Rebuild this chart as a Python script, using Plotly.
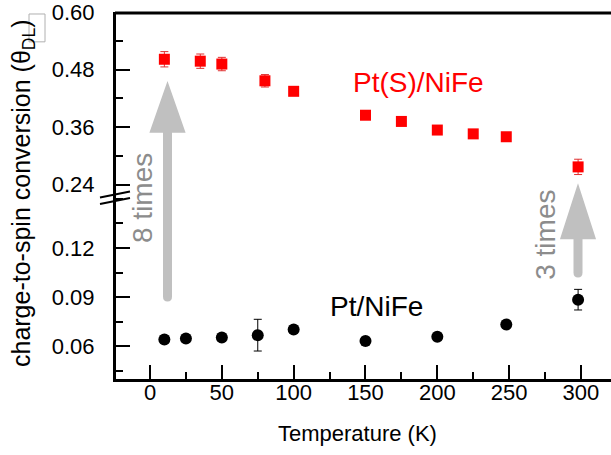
import plotly.graph_objects as go

# ---- data ----
temp_pts = [10, 35, 50, 80, 100, 150, 175, 200, 225, 248, 298]
theta_pts = [0.502, 0.498, 0.492, 0.457, 0.435, 0.385, 0.372, 0.354, 0.346, 0.340, 0.277]
err_pts = [0.016, 0.015, 0.014, 0.013, 0.008, 0.006, 0.006, 0.006, 0.006, 0.006, 0.016]

temp_pt = [10, 25, 50, 75, 100, 150, 200, 248, 298]
theta_pt = [0.0641, 0.0647, 0.0653, 0.0667, 0.0702, 0.0632, 0.0657, 0.0732, 0.0884]
err_pt = [0.002, 0.002, 0.002, 0.0097, 0.002, 0.002, 0.002, 0.002, 0.0063]

x_ticks = [0, 50, 100, 150, 200, 250, 300]
y_low_ticks = [0.06, 0.09, 0.12]
y_high_ticks = [0.24, 0.36, 0.48, 0.60]

W, H = 611, 455
L, R, T, B = 116, 0, 10, 76
PW, PH = W - L - R, H - T - B


def X(px):
    return (px - L) / PW


def Y(py):
    return (H - B - py) / PH


split = Y(193)

fig = go.Figure()
fig.add_trace(go.Scatter(
    x=temp_pts, y=theta_pts, mode="markers", yaxis="y2",
    marker=dict(symbol="square", size=11, color="#ff0000"),
    error_y=dict(type="data", array=err_pts, color="#e03030", thickness=1, width=4),
    showlegend=False))
fig.add_trace(go.Scatter(
    x=temp_pt, y=theta_pt, mode="markers", yaxis="y",
    marker=dict(symbol="circle", size=12, color="black"),
    error_y=dict(type="data", array=err_pt, color="black", thickness=1, width=4),
    showlegend=False))

tickfont = dict(family="Liberation Sans, Arial, sans-serif", size=22, color="black")
axis_common = dict(showline=True, linecolor="black", linewidth=3, ticks="inside",
                   tickcolor="black", tickwidth=2, ticklen=14, showgrid=False,
                   zeroline=False, tickfont=tickfont, ticklabeloverflow="allow")

fig.update_layout(
    width=W, height=H,
    margin=dict(l=L, r=R, t=T, b=B),
    paper_bgcolor="white", plot_bgcolor="white",
    xaxis=dict(range=[-23.67, 320.9], tickvals=x_ticks,
               minor=dict(dtick=25, tick0=0, ticks="inside", ticklen=7, tickwidth=2, tickcolor="black"),
               anchor="y", ticklabelstandoff=-8, **axis_common),
    yaxis=dict(range=[0.0399, 0.153], domain=[0, split], tickvals=y_low_ticks,
               ticktext=["%.2f" % v for v in y_low_ticks],
               minor=dict(dtick=0.015, tick0=0.045, ticks="inside", ticklen=7, tickwidth=2, tickcolor="black"),
               anchor="x", ticklabelstandoff=14, **axis_common),
    yaxis2=dict(range=[0.2203, 0.6008], domain=[split, 1], tickvals=y_high_ticks,
                ticktext=["%.2f" % v for v in y_high_ticks],
                minor=dict(dtick=0.06, tick0=0.24, ticks="inside", ticklen=7, tickwidth=2, tickcolor="black"),
                anchor="x", ticklabelstandoff=14, **axis_common),
)

shapes = []
# top frame line
shapes.append(dict(type="line", xref="paper", yref="paper", x0=X(115), x1=X(611), y0=Y(11), y1=Y(11),
                   line=dict(color="black", width=3)))
# axis break marks
for dy in (0, 6.5):
    shapes.append(dict(type="line", xref="paper", yref="paper",
                       x0=X(100), y0=Y(196.5 + dy), x1=X(130), y1=Y(190.5 + dy),
                       line=dict(color="black", width=2)))
# box around the DL subscript in the y title
shapes.append(dict(type="rect", xref="paper", yref="paper", x0=X(29), x1=X(45), y0=Y(40), y1=Y(12),
                   line=dict(color="#b0b0b0", width=1)))


def arrow(cx, tip, base, bottom, half=16, shaft=4.5, col="#c0c0c0"):
    head = "M {} {} L {} {} L {} {} Z".format(
        X(cx), Y(tip), X(cx - half), Y(base), X(cx + half), Y(base))
    body = ("M {a} {t} L {a} {b} Q {a} {e} {c} {e} Q {d} {e} {d} {b} L {d} {t} Z").format(
        a=X(cx - shaft), d=X(cx + shaft), c=X(cx), t=Y(base - 2), b=Y(bottom - 4), e=Y(bottom + 1))
    return [dict(type="path", xref="paper", yref="paper", path=head, fillcolor=col,
                 line=dict(color=col, width=3)),
            dict(type="path", xref="paper", yref="paper", path=body, fillcolor=col,
                 line=dict(color=col, width=0))]


shapes += arrow(167.5, 84, 130, 300)
shapes += arrow(578, 187, 237, 276)
fig.update_layout(shapes=shapes)

font_ann = "Liberation Sans, Arial, sans-serif"
ann = [
    dict(text="Pt(S)/NiFe", x=X(418), y=Y(81), font=dict(family=font_ann, size=28, color="#ff0000")),
    dict(text="Pt/NiFe", x=X(376), y=Y(306), font=dict(family=font_ann, size=28, color="black")),
    dict(text="8 times", x=X(143), y=Y(197), textangle=-90, font=dict(family=font_ann, size=28, color="#8c8c8c")),
    dict(text="3 times", x=X(546), y=Y(234), textangle=-90, font=dict(family=font_ann, size=28, color="#8c8c8c")),
    dict(text="Temperature (K)", x=X(357), y=Y(434), font=dict(family=font_ann, size=22, color="black")),
    dict(text="charge-to-spin conversion (θ<sub>DL</sub>)", x=X(23), y=Y(192), textangle=-90,
         font=dict(family=font_ann, size=25, color="black")),
]
for a in ann:
    a.update(xref="paper", yref="paper", showarrow=False, xanchor="center", yanchor="middle")
fig.update_layout(annotations=ann)

fig.write_html("out.html")
